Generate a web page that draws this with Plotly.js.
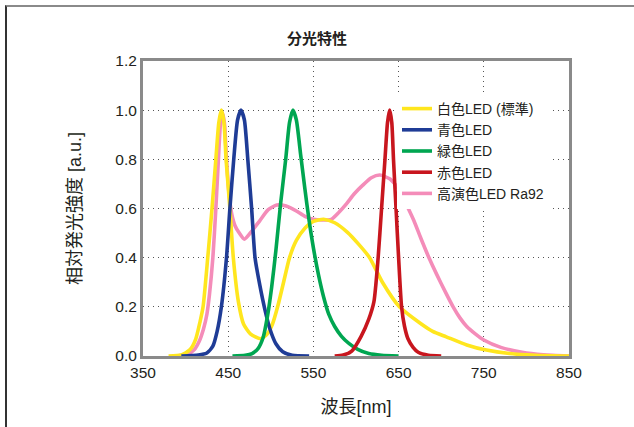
<!DOCTYPE html>
<html><head><meta charset="utf-8">
<script src="https://cdn.plot.ly/plotly-3.0.1.min.js"></script>
<style>
html,body{margin:0;padding:0;background:#fff;}
#wrap{position:relative;width:634px;height:427px;overflow:hidden;}
#chart{position:absolute;left:0;top:0;width:634px;height:427px;}
#frame{position:absolute;left:5px;top:5px;width:640px;height:430px;border-top:2px solid #8a8a8a;border-left:2px solid #333;pointer-events:none;}
</style></head>
<body><div id="wrap"><div id="chart"></div><div id="frame"></div></div>
<script>
// Series names (legend order)
const seriesNames = ["白色LED (標準)", "青色LED", "緑色LED", "赤色LED", "高演色LED Ra92"];

// 白色LED (標準)
const whiteX = [380,395,405,412,417,420.5,426,431,435.5,439,442,445,447.5,452,456,462,468,476,488,496,502,508,515,522,530,540,550,562,575,590,603,616,631,651,675,690,706,730,753,780,810,850];
const whiteY = [0,0.004,0.025,0.07,0.14,0.2,0.4,0.6,0.8,0.95,1.0,0.95,0.8,0.6,0.4,0.22,0.13,0.09,0.07,0.09,0.13,0.2,0.3,0.4,0.47,0.52,0.548,0.556,0.542,0.503,0.455,0.4,0.3,0.2,0.134,0.1,0.078,0.045,0.024,0.01,0.003,0];

// 青色LED
const blueX = [395,415,425,432,437,442,448,452,456.5,461,465,469,473,477.5,481.5,487,493,499,506,514,525,545];
const blueY = [0,0.004,0.012,0.04,0.1,0.2,0.4,0.6,0.8,0.96,1.0,0.96,0.8,0.6,0.4,0.29,0.19,0.11,0.05,0.017,0.003,0];

// 緑色LED
const greenX = [455,470,478,485,491,496,501,506,511.5,517.5,522,526,530,535,540,545,550,556,562,568,575,583,592,602,615,630,650];
const greenY = [0,0.003,0.01,0.03,0.075,0.16,0.28,0.43,0.62,0.8,0.95,1.0,0.96,0.82,0.68,0.55,0.44,0.33,0.24,0.17,0.12,0.08,0.05,0.027,0.01,0.003,0];

// 赤色LED
const redX = [575,585,595,606,615,621,626,630,634,637,639.5,642,644,647,650,653.5,657,661,667,673,685,700];
const redY = [0,0.004,0.02,0.08,0.15,0.22,0.4,0.6,0.8,0.95,1.0,0.95,0.8,0.6,0.4,0.2,0.12,0.07,0.035,0.015,0.003,0];

// 高演色LED Ra92
const pinkX = [390,403,410,416,421,425,428,432,435.5,438.5,441,443,445.5,448,451,454,458,463,469,477,487,497,507,518,530,540,550,560,571,580,589,598,608,618,628,640,651,660,668,676,685,695,705,714,722,730,740,750,770,795,820,850];
const pinkY = [0,0.008,0.025,0.06,0.11,0.17,0.25,0.4,0.6,0.8,0.95,0.99,0.95,0.8,0.66,0.58,0.53,0.5,0.475,0.505,0.55,0.595,0.614,0.61,0.59,0.568,0.556,0.553,0.556,0.585,0.62,0.66,0.695,0.725,0.736,0.72,0.675,0.61,0.55,0.48,0.405,0.33,0.26,0.2,0.155,0.12,0.09,0.065,0.035,0.015,0.005,0];

// Axis ticks
const xTicks = [350,450,550,650,750,850];
const yTicks = [0,0.2,0.4,0.6,0.8,1.0,1.2];

const colors = {white:"#FFE61E", blue:"#1F3C96", green:"#00A651", red:"#C8161E", pink:"#F48CB9"};
const FONT = '"Liberation Sans", Arial, "Noto Sans CJK JP", sans-serif';

function tr(x, y, name, color, rank){
  return {x:x, y:y, name:name, type:'scatter', mode:'lines', legendrank:rank,
    line:{color:color, width:3.6, shape:'spline', smoothing:0.6}, hoverinfo:'skip'};
}
const data = [
  tr(pinkX, pinkY, seriesNames[4], colors.pink, 5),
  tr(whiteX, whiteY, seriesNames[0], colors.white, 1),
  tr(blueX, blueY, seriesNames[1], colors.blue, 2),
  tr(greenX, greenY, seriesNames[2], colors.green, 3),
  tr(redX, redY, seriesNames[3], colors.red, 4)
];

const layout = {
  width:634, height:427,
  margin:{l:143, r:65, t:61, b:71, pad:0},
  paper_bgcolor:'#fff', plot_bgcolor:'#fff',
  font:{family:FONT, color:'#231f20', size:15},
  title:{text:'分光特性', x:0.5, xref:'container', xanchor:'center', y:1-39/427, yref:'container', yanchor:'middle',
    font:{family:'"Noto Sans CJK JP", sans-serif', size:15, weight:700, color:'#231f20'}},
  xaxis:{range:[350,850], tickvals:xTicks, ticktext:xTicks.map(String),
    showline:true, linecolor:'#8a8a8a', linewidth:3, mirror:true,
    showgrid:true, gridcolor:'#555', gridwidth:1, griddash:'1px,4px',
    ticks:'', zeroline:false, tickfont:{size:15.5, color:'#231f20'},
    title:{text:'波長[nm]', standoff:21, font:{family:FONT, size:18, color:'#231f20'}}},
  yaxis:{range:[0,1.2], tickvals:yTicks, ticktext:yTicks.map(v=>v.toFixed(1)),
    showline:true, linecolor:'#8a8a8a', linewidth:3, mirror:true,
    showgrid:true, gridcolor:'#555', gridwidth:1, griddash:'1px,4px',
    ticks:'', zeroline:false, tickfont:{size:15.5, color:'#231f20'},
    title:{text:'相対発光強度 [a.u.]', standoff:30, font:{family:FONT, size:18, color:'#231f20'}}},
  legend:{x:(397-143)/426, y:(356-93)/295, xanchor:'left', yanchor:'top', bgcolor:'#fff', borderwidth:0,
    font:{size:14, color:'#231f20', family:FONT}, traceorder:'normal'},
  showlegend:true
};
Plotly.newPlot('chart', data, layout, {staticPlot:true, displayModeBar:false});
</script></body></html>
